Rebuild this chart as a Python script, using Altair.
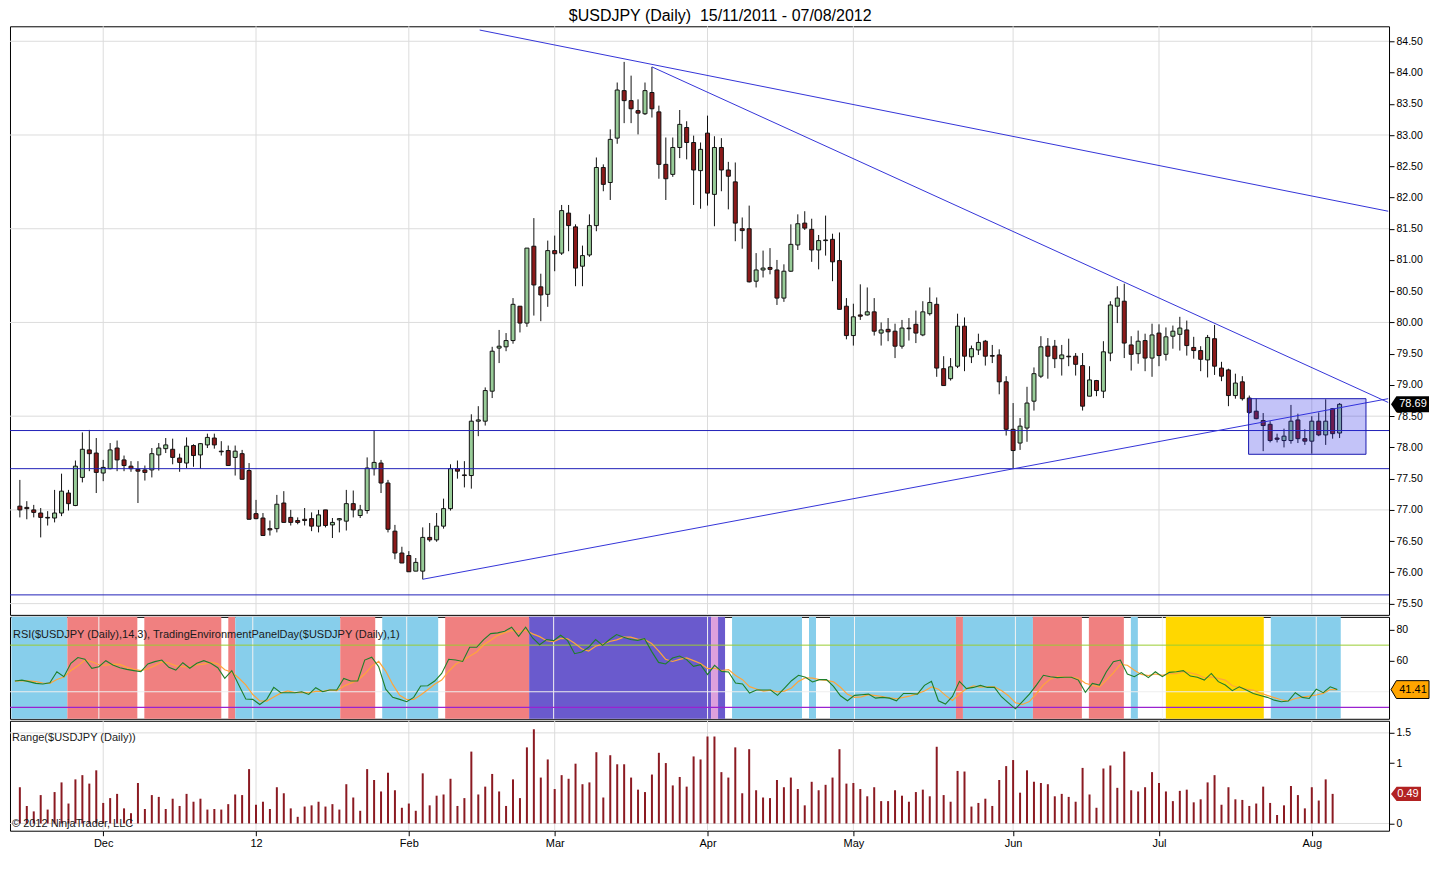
import json
import altair as alt
import pandas as pd

# ---------------- data ----------------
opens = [
    77.06, 77.04, 77.00, 76.95, 76.88, 76.87, 76.95, 77.27, 77.07, 77.52,
    77.96, 77.91, 77.59, 77.66, 77.99, 77.80, 77.70, 77.65, 77.64, 77.64,
    77.88, 77.98, 77.97, 77.83, 77.75, 78.03, 77.88, 78.04, 78.15, 77.94,
    77.95, 77.84, 77.90, 77.63, 76.94, 76.87, 76.70, 76.70, 77.11, 76.88,
    76.83, 76.85, 76.86, 76.74, 77.00, 76.76, 76.84, 76.82, 77.10, 76.91,
    76.99, 77.66, 77.75, 77.43, 76.66, 76.31, 76.27, 76.02, 76.02, 76.56,
    76.52, 76.74, 77.02, 77.66, 77.56, 77.55, 78.42, 78.42, 78.90, 79.59,
    79.61, 79.71, 80.26, 79.99, 81.22, 80.57, 80.45, 81.15, 81.11, 81.75,
    81.53, 80.90, 81.08, 81.55, 82.48, 82.24, 82.95, 83.71, 83.55, 83.39,
    83.34, 83.68, 83.37, 82.53, 82.37, 82.80, 83.12, 82.88, 82.43, 83.03,
    82.05, 82.80, 82.44, 82.25, 81.50, 81.50, 80.66, 80.84, 80.88, 80.84,
    80.39, 80.82, 81.24, 81.59, 81.49, 81.16, 81.31, 81.33, 80.99, 80.26,
    79.79, 80.12, 80.12, 80.17, 79.83, 79.89, 79.86, 79.62, 79.91, 79.97,
    79.80, 80.14, 80.29, 79.26, 79.10, 79.30, 79.94, 79.45, 79.56, 79.70,
    79.47, 79.48, 79.05, 78.29, 78.07, 78.31, 78.74, 79.14, 79.62, 79.62,
    79.42, 79.46, 79.46, 79.31, 78.82, 79.07, 78.90, 79.51, 80.26, 80.34,
    79.64, 79.50, 79.71, 79.43, 79.83, 79.49, 79.78, 79.81, 79.88, 79.60,
    79.55, 79.40, 79.74, 79.27, 79.24, 78.83, 79.05, 78.79, 78.58, 78.43,
    78.37, 78.15, 78.11, 78.11, 78.44, 78.14, 78.10, 78.42, 78.20, 78.62,
    78.23,
]
highs = [
    77.48, 77.14, 77.08, 77.03, 76.98, 77.32, 77.58, 77.32, 77.79, 78.24,
    78.28, 78.15, 77.80, 78.07, 78.11, 77.87, 77.78, 77.78, 77.71, 77.99,
    78.07, 78.15, 78.14, 77.90, 78.16, 78.05, 78.07, 78.22, 78.22, 78.10,
    78.03, 78.03, 77.96, 77.75, 77.16, 76.95, 76.83, 77.24, 77.30, 77.00,
    76.88, 77.03, 76.96, 77.00, 77.00, 76.87, 76.87, 77.32, 77.31, 77.08,
    77.84, 78.27, 77.80, 77.48, 76.76, 76.41, 76.34, 76.23, 76.72, 76.79,
    76.95, 77.18, 77.73, 77.79, 77.78, 78.53, 78.66, 78.96, 79.61, 79.88,
    79.83, 80.39, 80.26, 81.19, 81.67, 80.78, 81.31, 81.39, 81.88, 81.88,
    81.57, 81.23, 81.73, 82.64, 82.53, 83.09, 83.84, 84.17, 83.95, 83.57,
    83.84, 84.09, 83.47, 82.96, 82.96, 83.40, 83.22, 82.99, 82.88, 83.31,
    82.98, 82.95, 82.57, 82.56, 81.68, 81.87, 81.11, 81.15, 81.19, 81.00,
    80.93, 81.57, 81.73, 81.78, 81.66, 81.40, 81.71, 81.42, 81.44, 80.39,
    80.30, 80.61, 80.56, 80.39, 80.00, 80.07, 79.98, 80.04, 80.07, 80.19,
    80.34, 80.56, 80.40, 79.46, 79.43, 80.14, 80.08, 79.63, 79.82, 79.72,
    79.64, 79.57, 79.14, 78.71, 78.47, 78.97, 79.28, 79.78, 79.75, 79.72,
    79.64, 79.74, 79.51, 79.51, 79.30, 79.08, 79.70, 80.34, 80.58, 80.62,
    79.78, 79.87, 79.82, 79.98, 79.97, 79.92, 79.95, 80.09, 80.03, 79.77,
    79.62, 79.80, 79.96, 79.37, 79.26, 79.18, 79.14, 78.83, 78.78, 78.55,
    78.42, 78.22, 78.30, 78.68, 78.54, 78.29, 78.50, 78.56, 78.77, 78.63,
    78.71,
]
lows = [
    76.88, 76.85, 76.88, 76.56, 76.75, 76.80, 76.90, 76.99, 77.06, 77.44,
    77.62, 77.27, 77.46, 77.65, 77.62, 77.62, 77.61, 77.11, 77.47, 77.52,
    77.63, 77.91, 77.73, 77.61, 77.67, 77.69, 77.66, 77.99, 77.98, 77.87,
    77.71, 77.55, 77.49, 76.85, 76.85, 76.59, 76.59, 76.64, 76.80, 76.75,
    76.77, 76.75, 76.66, 76.64, 76.72, 76.55, 76.64, 76.67, 76.88, 76.87,
    76.94, 77.55, 77.27, 76.64, 76.21, 76.15, 76.01, 76.02, 75.89, 76.49,
    76.49, 76.70, 76.99, 77.50, 77.36, 77.34, 78.18, 78.35, 78.79, 79.35,
    79.54, 79.66, 79.84, 79.93, 80.11, 80.02, 80.25, 80.82, 81.08, 81.14,
    80.58, 80.58, 81.05, 81.46, 82.10, 81.96, 82.86, 83.19, 83.19, 83.01,
    83.32, 83.28, 82.30, 81.96, 82.33, 82.63, 82.61, 81.88, 81.82, 81.87,
    81.54, 82.10, 81.81, 81.30, 81.18, 80.64, 80.56, 80.72, 80.77, 80.28,
    80.33, 80.81, 81.16, 81.48, 80.97, 80.85, 81.07, 80.66, 80.21, 79.73,
    79.63, 80.04, 80.11, 79.79, 79.63, 79.70, 79.43, 79.58, 79.71, 79.67,
    79.78, 80.11, 79.13, 78.99, 79.07, 79.27, 79.22, 79.35, 79.48, 79.31,
    79.35, 78.85, 78.19, 77.66, 77.96, 78.09, 78.59, 79.11, 79.10, 79.27,
    79.15, 79.30, 79.15, 78.59, 78.82, 78.82, 78.79, 79.38, 79.99, 79.43,
    79.23, 79.34, 79.22, 79.13, 79.30, 79.39, 79.58, 79.55, 79.47, 79.42,
    79.22, 79.12, 79.16, 79.06, 78.66, 78.78, 78.75, 78.54, 78.45, 77.94,
    78.08, 78.08, 78.00, 78.06, 78.07, 78.04, 77.90, 78.18, 78.04, 78.14,
    78.15,
]
closes = [
    77.00, 77.02, 76.96, 76.88, 76.87, 76.95, 77.30, 77.10, 77.70, 77.97,
    77.90, 77.60, 77.68, 77.96, 77.80, 77.71, 77.66, 77.62, 77.60, 77.90,
    77.99, 78.04, 77.84, 77.76, 78.02, 77.87, 78.06, 78.16, 78.04, 77.93,
    77.71, 77.94, 77.49, 76.85, 76.86, 76.59, 76.68, 77.09, 76.80, 76.80,
    76.80, 76.83, 76.74, 76.92, 76.75, 76.80, 76.86, 77.10, 77.00, 77.00,
    77.67, 77.76, 77.43, 76.69, 76.31, 76.15, 76.01, 76.16, 76.56, 76.52,
    76.74, 77.02, 77.66, 77.62, 77.55, 78.42, 78.44, 78.91, 79.54, 79.62,
    79.71, 80.29, 79.99, 81.19, 80.60, 80.44, 81.15, 81.10, 81.79, 81.55,
    80.87, 81.07, 81.55, 82.48, 82.21, 82.93, 83.72, 83.55, 83.42, 83.35,
    83.71, 83.42, 82.53, 82.30, 82.80, 83.17, 82.88, 82.44, 82.77, 82.07,
    82.80, 82.44, 82.34, 81.59, 81.47, 80.65, 80.84, 80.87, 80.85, 80.39,
    80.82, 81.25, 81.58, 81.51, 81.16, 81.31, 81.32, 80.97, 80.21, 79.79,
    80.09, 80.10, 80.17, 79.86, 79.88, 79.85, 79.62, 79.91, 79.90, 79.83,
    80.17, 80.32, 79.27, 78.99, 79.29, 79.94, 79.46, 79.58, 79.68, 79.46,
    79.46, 79.05, 78.29, 77.95, 78.34, 78.71, 79.18, 79.61, 79.46, 79.42,
    79.48, 79.45, 79.33, 78.66, 79.08, 78.91, 79.53, 80.28, 80.39, 79.67,
    79.49, 79.70, 79.43, 79.80, 79.47, 79.77, 79.86, 79.91, 79.63, 79.55,
    79.41, 79.76, 79.30, 79.14, 78.83, 79.03, 78.78, 78.56, 78.46, 78.35,
    78.11, 78.13, 78.18, 78.42, 78.14, 78.10, 78.42, 78.20, 78.42, 78.22,
    78.69,
]
# RSI(14,3) line, one value per completed bar
rsi_vals = [
    46.9, 47.5, 46.5, 45.4, 45.0, 45.8, 52.9, 49.7, 58.3, 62.0,
    60.9, 55.1, 56.1, 60.0, 57.2, 55.5, 54.4, 53.6, 52.9, 57.9,
    59.4, 60.4, 55.7, 54.0, 58.7, 55.1, 58.3, 60.0, 58.3, 55.5,
    48.6, 53.6, 44.3, 35.3, 35.1, 31.8, 35.1, 42.8, 39.4, 39.4,
    39.4, 40.0, 38.3, 42.6, 40.0, 41.1, 41.1, 48.6, 46.9, 46.9,
    60.4, 62.2, 56.1, 41.7, 36.4, 35.1, 33.6, 36.4, 43.7, 43.9,
    46.9, 51.8, 60.9, 60.4, 59.5, 68.6, 68.6, 73.6, 77.4, 77.9,
    78.9, 81.5, 75.7, 81.5, 74.6, 70.3, 73.6, 72.9, 76.4, 72.9,
    64.5, 65.6, 68.6, 73.6, 69.9, 73.6, 76.8, 75.1, 73.6, 73.1,
    74.2, 66.0, 58.9, 57.9, 61.7, 63.0, 60.7, 56.4, 57.4, 51.0,
    57.0, 53.1, 52.7, 45.6, 45.0, 39.2, 41.1, 41.1, 41.1, 37.7,
    42.4, 47.1, 50.6, 49.3, 46.3, 47.8, 47.8, 43.5, 37.4, 34.2,
    37.7, 38.1, 38.5, 35.9, 36.4, 35.9, 34.2, 38.9, 38.9, 38.5,
    44.1, 46.7, 34.2, 32.1, 37.0, 46.7, 42.0, 42.8, 44.1, 42.8,
    42.8, 36.8, 32.9, 29.0, 33.6, 38.5, 44.3, 50.6, 49.7, 49.1,
    49.3, 49.3, 47.5, 39.6, 45.4, 44.3, 52.9, 59.4, 60.4, 51.4,
    49.7, 52.3, 49.1, 52.9, 49.7, 52.5, 52.9, 53.6, 50.1, 49.3,
    47.5, 51.8, 46.5, 44.3, 40.7, 43.2, 41.1, 38.9, 37.6, 36.4,
    34.6, 33.6, 34.0, 39.4, 36.4, 35.7, 41.7, 39.4, 43.2, 41.41,
]
# Trading environment panel (background states), bar index ranges
band_start = [0, 8, 19, 31, 32, 47, 53, 62, 74, 100, 101, 103, 114, 117, 135, 136, 146, 154, 160, 165, 180]
band_end = [7, 17, 29, 31, 46, 51, 60, 73, 99, 100, 101, 112, 114, 134, 135, 145, 152, 158, 160, 178, 189]
band_state = ["B", "R", "R", "R", "B", "R", "B", "R", "P", "L", "P", "B", "B", "B", "R", "B", "R", "R", "B", "G", "B"]
state_names = ["B", "R", "P", "L", "G"]
state_colors = ["#87CEEB", "#F08080", "#6A5ACD", "#DDA0DD", "#FFD700"]

month_idx = [12, 34, 56, 77, 99, 120, 143, 164, 186]
month_lab = ["Dec", "12", "Feb", "Mar", "Apr", "May", "Jun", "Jul", "Aug"]

price_ticks = [75.5, 76.0, 76.5, 77.0, 77.5, 78.0, 78.5, 79.0, 79.5, 80.0,
               80.5, 81.0, 81.5, 82.0, 82.5, 83.0, 83.5, 84.0, 84.5]
price_grid = [75.5, 77.0, 78.5, 80.0, 81.5, 83.0, 84.5]
rsi_ticks = [60, 80]
rsi_grid = [40]
range_ticks = [0, 1, 1.5]
range_grid = [0, 1.5]

# drawing objects
hlines = [78.27, 77.66, 75.64]
trend_x1 = [66.2, 91.0, 58.0]
trend_y1 = [84.68, 84.09, 75.89]
trend_x2 = [197.0, 197.0, 197.0]
trend_y2 = [81.78, 78.72, 78.78]
box_x = [176.9, 193.8]
box_y = [77.89, 78.78]

TITLE = "$USDJPY (Daily)\u00a0 15/11/2011 - 07/08/2012"
RSI_LABEL = "RSI($USDJPY (Daily),14,3), TradingEnvironmentPanelDay($USDJPY (Daily),1)"
RANGE_LABEL = "Range($USDJPY (Daily))"
COPY_LABEL = "\u00a9 2012 NinjaTrader, LLC"

# ---------------- layout ----------------
FONT = "Liberation Sans"
W = 1380
H_PRICE, H_RSI, H_RANGE = 589, 102, 110
XS = alt.Scale(domain=[-0.7, 196.4], nice=False, zero=False)
PS = alt.Scale(domain=[75.32, 84.74], nice=False, zero=False)
RS = alt.Scale(domain=[22.6, 88.2], nice=False, zero=False)
GS = alt.Scale(domain=[-0.12, 1.70], nice=False, zero=False)
GRID = "#dcdcdc"

n = len(closes)
ohlc = pd.DataFrame({"i": list(range(n)), "open": opens, "high": highs,
                     "low": lows, "close": closes})
nr = len(rsi_vals)
rsi_df = pd.DataFrame({"i": list(range(nr)), "rsi": rsi_vals})
rng_df = ohlc.iloc[:nr].copy()
months = pd.DataFrame({"i": month_idx})
bands = pd.DataFrame({"s": band_start, "e": band_end, "state": band_state})

TAG_P = "M-1,0L-0.72,-0.42L1,-0.42L1,0.42L-0.72,0.42Z"
TAG_R = "M-1,0L-0.72,-0.47L1,-0.47L1,0.47L-0.72,0.47Z"
TAG_G = "M-1,0L-0.63,-0.47L1,-0.47L1,0.47L-0.63,0.47Z"


def yaxis(values, fmt):
    return alt.Axis(orient="right", values=values, format=fmt, grid=False, domain=False,
                    ticks=True, tickSize=5, tickColor="black", labelFontSize=10.5,
                    labelPadding=2, labelColor="black", labelFont=FONT, title=None)


PY = yaxis(price_ticks, ".2f")
RY = yaxis(rsi_ticks, "d")
GY = yaxis(range_ticks, "~g")
label_expr = "{}[indexof({}, datum.value)]".format(json.dumps(month_lab), json.dumps(month_idx))
GX = alt.Axis(values=month_idx, labelExpr=label_expr, grid=False, domain=False, ticks=True,
              tickSize=5, tickColor="black", labelFontSize=11, labelFont=FONT,
              labelColor="black", labelPadding=2, title=None, orient="bottom")


def vgrid(ax=None, color=GRID):
    return alt.Chart(months).mark_rule(color=color, strokeWidth=1).encode(
        x=alt.X("i:Q", scale=XS, axis=ax))


def text_at(txt, x, y, size=11):
    return alt.Chart(pd.DataFrame({"t": [txt]})).mark_text(
        align="left", baseline="middle", font=FONT, fontSize=size, color="#1a1a1a"
    ).encode(x=alt.value(x), y=alt.value(y), text="t:N")


# ---------------- price panel ----------------
p_hgrid = alt.Chart(pd.DataFrame({"p": price_grid})).mark_rule(color=GRID).encode(
    y=alt.Y("p:Q", scale=PS, axis=PY))
wicks = alt.Chart(ohlc).mark_rule(color="#111111", strokeWidth=1).encode(
    x=alt.X("i:Q", scale=XS, axis=None),
    y=alt.Y("low:Q", scale=PS, axis=PY), y2="high:Q")
bodies = alt.Chart(ohlc).mark_bar(width=4, stroke="#111111", strokeWidth=1).encode(
    x=alt.X("i:Q", scale=XS, axis=None),
    y=alt.Y("open:Q", scale=PS, axis=PY), y2="close:Q",
    fill=alt.condition("datum.close >= datum.open", alt.value("#98CC98"), alt.value("#8B1A1A")))
h_lines = alt.Chart(pd.DataFrame({"p": hlines})).mark_rule(color="#2020B8", strokeWidth=1).encode(
    y=alt.Y("p:Q", scale=PS, axis=PY))
trends = alt.Chart(pd.DataFrame({"x1": trend_x1, "y1": trend_y1, "x2": trend_x2, "y2": trend_y2})
                   ).mark_rule(color="#3434D8", strokeWidth=1, clip=True).encode(
    x=alt.X("x1:Q", scale=XS, axis=None), x2="x2:Q",
    y=alt.Y("y1:Q", scale=PS, axis=PY), y2="y2:Q")
box = alt.Chart(pd.DataFrame({"x1": [box_x[0]], "x2": [box_x[1]], "y1": [box_y[0]], "y2": [box_y[1]]})
                ).mark_rect(fill="#2626E6", fillOpacity=0.28, stroke="#1A1AB0", strokeWidth=1, clip=True).encode(
    x=alt.X("x1:Q", scale=XS, axis=None), x2="x2:Q",
    y=alt.Y("y1:Q", scale=PS, axis=PY), y2="y2:Q")
ptag_df = pd.DataFrame({"v": [closes[-1]]})
ptag = alt.Chart(ptag_df).mark_point(shape=TAG_P, size=1444, filled=True, fill="black",
                                     opacity=1, clip=False).encode(
    x=alt.value(W + 21), y=alt.Y("v:Q", scale=PS, axis=PY))
ptag_t = alt.Chart(ptag_df).mark_text(color="white", font=FONT, fontSize=11, align="center",
                                      baseline="middle", clip=False).encode(
    x=alt.value(W + 24), y=alt.Y("v:Q", scale=PS, axis=PY), text=alt.Text("v:Q", format=".2f"))

price = alt.layer(vgrid(), p_hgrid, wicks, bodies, h_lines, trends, box, ptag, ptag_t
                  ).properties(width=W, height=H_PRICE)

# ---------------- RSI panel ----------------
band_layer = alt.Chart(bands).transform_calculate(
    x1="datum.s - 0.5", x2="datum.e + 0.5").mark_rect().encode(
    x=alt.X("x1:Q", scale=XS, axis=None), x2="x2:Q",
    y=alt.value(0), y2=alt.value(H_RSI),
    color=alt.Color("state:N", scale=alt.Scale(domain=state_names, range=state_colors), legend=None))
r_hgrid = alt.Chart(pd.DataFrame({"v": rsi_grid})).mark_rule(color="#eeeeee").encode(
    y=alt.Y("v:Q", scale=RS, axis=RY))
lvl70 = alt.Chart(pd.DataFrame({"v": [70]})).mark_rule(color="#9ACD32", strokeWidth=1).encode(
    y=alt.Y("v:Q", scale=RS, axis=RY))
lvl30 = alt.Chart(pd.DataFrame({"v": [30]})).mark_rule(color="#9A22D0", strokeWidth=1.2).encode(
    y=alt.Y("v:Q", scale=RS, axis=RY))
rsi_avg = alt.Chart(rsi_df).transform_window(
    avg="mean(rsi)", frame=[-2, 0], sort=[alt.SortField("i")]).mark_line(
    color="#FFA53A", strokeWidth=1.2).encode(
    x=alt.X("i:Q", scale=XS, axis=None), y=alt.Y("avg:Q", scale=RS, axis=RY))
rsi_line = alt.Chart(rsi_df).mark_line(color="#1E7F2A", strokeWidth=1.1).encode(
    x=alt.X("i:Q", scale=XS, axis=None), y=alt.Y("rsi:Q", scale=RS, axis=RY))
rtag_df = pd.DataFrame({"v": [rsi_vals[-1]]})
rtag = alt.Chart(rtag_df).mark_point(shape=TAG_R, size=1444, filled=True, fill="#FFA500",
                                     stroke="black", strokeWidth=1, opacity=1, clip=False).encode(
    x=alt.value(W + 21), y=alt.Y("v:Q", scale=RS, axis=RY))
rtag_t = alt.Chart(rtag_df).mark_text(color="black", font=FONT, fontSize=11, align="center",
                                      baseline="middle", clip=False).encode(
    x=alt.value(W + 24), y=alt.Y("v:Q", scale=RS, axis=RY), text=alt.Text("v:Q", format=".2f"))

rsi_chart = alt.layer(band_layer, vgrid(color="#f2f2f2"), r_hgrid, lvl70, lvl30, rsi_avg, rsi_line,
                      rtag, rtag_t, text_at(RSI_LABEL, 3, 18)).properties(width=W, height=H_RSI)

# ---------------- Range panel ----------------
g_hgrid = alt.Chart(pd.DataFrame({"v": range_grid})).mark_rule(color=GRID).encode(
    y=alt.Y("v:Q", scale=GS, axis=GY))
rng_bars = alt.Chart(rng_df).transform_calculate(rng="datum.high - datum.low").mark_bar(
    width=2, color="#8B1A22").encode(
    x=alt.X("i:Q", scale=XS, axis=GX),
    y=alt.Y("rng:Q", scale=GS, axis=GY), y2=alt.datum(0))
gtag_df = pd.DataFrame({"v": [round(highs[nr - 1] - lows[nr - 1], 2)]})
gtag = alt.Chart(gtag_df).mark_point(shape=TAG_G, size=900, filled=True, fill="#B22222",
                                     opacity=1, clip=False).encode(
    x=alt.value(W + 17), y=alt.Y("v:Q", scale=GS, axis=GY))
gtag_t = alt.Chart(gtag_df).mark_text(color="white", font=FONT, fontSize=11, align="center",
                                      baseline="middle", clip=False).encode(
    x=alt.value(W + 19), y=alt.Y("v:Q", scale=GS, axis=GY), text=alt.Text("v:Q", format=".2f"))

range_chart = alt.layer(vgrid(GX), g_hgrid, rng_bars, gtag, gtag_t,
                        text_at(RANGE_LABEL, 2, 17), text_at(COPY_LABEL, 2, 103)
                        ).properties(width=W, height=H_RANGE)

chart = alt.vconcat(price, rsi_chart, range_chart, spacing=0).properties(
    title=alt.TitleParams(TITLE, fontSize=16, font=FONT, fontWeight="normal", color="black",
                          anchor="middle", offset=1),
    padding={"left": 0, "top": 0, "right": 0, "bottom": 0},
    background="white",
).configure_view(stroke="black", strokeWidth=1).configure_axis(labelFont=FONT)

chart.save("out.html", embed_options={"renderer": "svg", "actions": False})
